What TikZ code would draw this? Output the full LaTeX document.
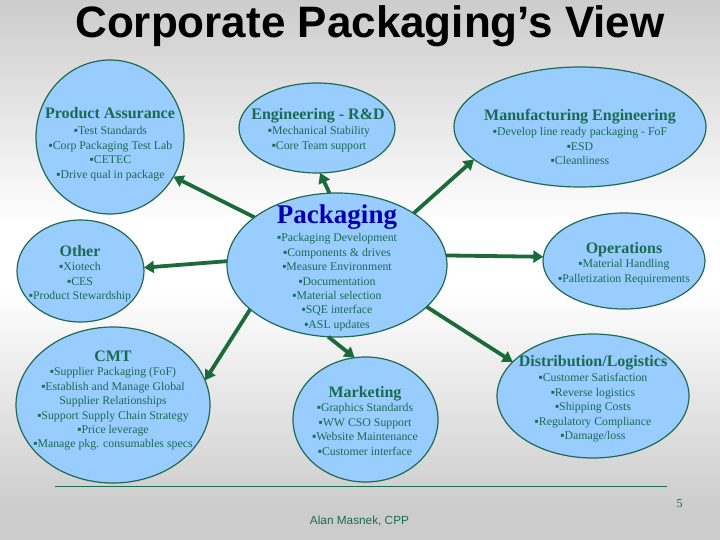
\documentclass[tikz,border=0pt]{standalone}
\usepackage{fontspec}
\setmainfont{Liberation Serif}
\setsansfont{Liberation Sans}
\usetikzlibrary{shapes.geometric,arrows.meta}
\definecolor{bubblefill}{HTML}{99CCFF}
\definecolor{bubbleedge}{HTML}{1F6B50}
\definecolor{arrowgreen}{HTML}{1B6B3A}
\definecolor{inktext}{HTML}{1A6B50}
\definecolor{edgegray}{HTML}{CCCCCC}
\newcommand{\bl}{\strut▪}
\tikzset{
  x=1pt,y=-1pt,
  bubble/.style={ellipse,draw=bubbleedge,fill=bubblefill,line width=1.2pt,inner sep=0pt,outer sep=0pt},
  headtext/.style={anchor=base,inner sep=0pt,text=inktext,font=\fontsize{16}{18}\selectfont\bfseries},
  bodytext/.style={anchor=north,inner sep=0pt,align=center,text=inktext,font=\fontsize{11.8}{14.4}\selectfont},
  link/.style={draw=arrowgreen,line width=3.8pt,-{Triangle[length=10pt,width=12pt]}}
}
\begin{document}
\begin{tikzpicture}
\useasboundingbox (0,0) rectangle (720,540);
\shade[top color=edgegray,bottom color=white] (0,0) rectangle (720,225);
\fill[white] (0,224) rectangle (720,290);
\shade[top color=white,bottom color=edgegray] (0,289) rectangle (720,510);
\fill[edgegray] (0,509) rectangle (720,540);

\node[inner sep=0pt,anchor=base,font=\fontsize{44}{50}\sffamily\bfseries,text=black] (title) at (370,38) {Corporate Packaging’s View};

\node[bubble,minimum width=148pt,minimum height=154pt] (pa) at (110,137) {};
\node[bubble,minimum width=156pt,minimum height=90pt] (eng) at (317,128) {};
\node[bubble,minimum width=252pt,minimum height=120pt] (mfg) at (580,127) {};
\node[bubble,minimum width=220pt,minimum height=144pt] (pack) at (337,265) {};
\node[bubble,minimum width=127pt,minimum height=102pt] (other) at (80.5,271) {};
\node[bubble,minimum width=194pt,minimum height=156pt] (cmt) at (113,405) {};
\node[bubble,minimum width=145pt,minimum height=125pt] (mkt) at (365.5,419.5) {};
\node[bubble,minimum width=162pt,minimum height=96pt] (ops) at (624,261) {};
\node[bubble,minimum width=192pt,minimum height=124pt] (dist) at (593,396) {};

\draw[link] (pack.150) -- (pa.-32);
\draw[link] (pack.96) -- (eng.-86);
\draw[link] (pack.34.4) -- (mfg.197);
\draw[link] (pack.178) -- (other.3.5);
\draw[link] (pack.207) -- (cmt.15);
\draw[link] (pack.263.6) -- (mkt.100);
\draw[link] (pack.5.3) -- (ops.177);
\draw[link] (pack.-25) -- (dist.157.6);

\node[headtext] (paH) at (110,119) {Product Assurance};
\node[bodytext] (paB) at (110.5,124.7) {\bl Test Standards\\\bl Corp Packaging Test Lab\\\bl CETEC\\\bl Drive qual in package};

\node[headtext] (engH) at (318,120) {Engineering - R\&D};
\node[bodytext] (engB) at (319,124.7) {\bl Mechanical Stability\\\bl Core Team support};

\node[headtext] (mfgH) at (580,121) {Manufacturing Engineering};
\node[bodytext] (mfgB) at (580,125.7) {\bl Develop line ready packaging - FoF\\\bl ESD\\\bl Cleanliness};

\node[headtext,text=blue!70!black,font=\fontsize{27}{30}\selectfont\bfseries] (packH) at (337,223) {Packaging};
\node[bodytext] (packB) at (337,231.7) {\bl Packaging Development\\\bl Components \& drives\\\bl Measure Environment\\\bl Documentation\\\bl Material selection\\\bl SQE interface\\\bl ASL updates};

\node[headtext] (otherH) at (80,256) {Other};
\node[bodytext] (otherB) at (80,260.7) {\bl Xiotech\\\bl CES\\\bl Product Stewardship};

\node[headtext] (cmtH) at (113,361) {CMT};
\node[bodytext] (cmtB) at (113,365.7) {\bl Supplier Packaging (FoF)\\\bl Establish and Manage Global\\Supplier Relationships\\\bl Support Supply Chain Strategy\\\bl Price leverage\\\bl Manage pkg. consumables specs};

\node[headtext] (mktH) at (365,397) {Marketing};
\node[bodytext] (mktB) at (365,401.7) {\bl Graphics Standards\\\bl WW CSO Support\\\bl Website Maintenance\\\bl Customer interface};

\node[headtext] (opsH) at (624,253) {Operations};
\node[bodytext] (opsB) at (624,257.7) {\bl Material Handling\\\bl Palletization Requirements};

\node[headtext] (distH) at (593,366) {Distribution/Logistics};
\node[bodytext] (distB) at (593,371.7) {\bl Customer Satisfaction\\\bl Reverse logistics\\\bl Shipping Costs\\\bl Regulatory Compliance\\\bl Damage/loss};

\coordinate (ruleL) at (54.5,486);
\coordinate (ruleR) at (667,486);
\draw[bubbleedge,line width=0.8pt] (ruleL) -- (ruleR);
\node[inner sep=0pt,text=inktext,font=\fontsize{12}{14}\selectfont] (pageno) at (679.5,504) {5};
\node[inner sep=0pt,text=inktext,font=\fontsize{11.8}{13}\sffamily] (author) at (359.5,521) {Alan Masnek, CPP};
\end{tikzpicture}
\end{document}
